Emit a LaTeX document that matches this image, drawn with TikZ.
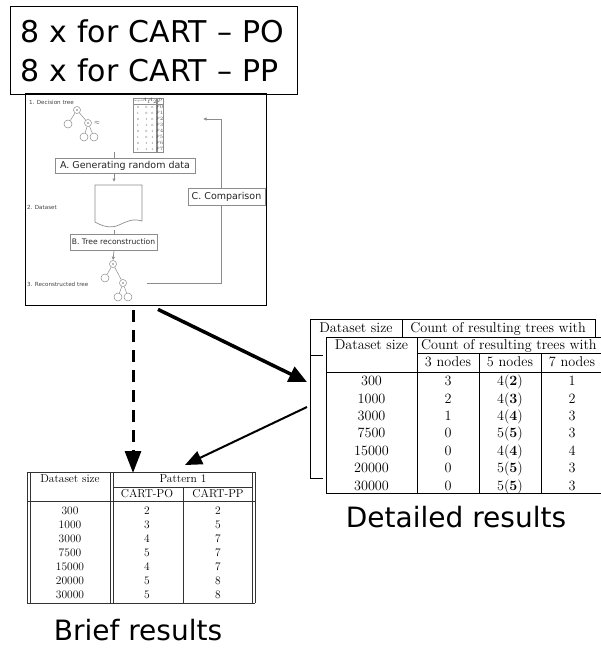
\documentclass[tikz,border=0pt]{standalone}
\usepackage{fontspec}
\newfontfamily\dv{DejaVu Sans}
\usetikzlibrary{arrows.meta,calc}
\begin{document}
\begin{tikzpicture}[x=1pt,y=-1pt,
  lbl/.style={font=\dv\fontsize{28}{30}\selectfont, inner sep=0},
  fl/.style={draw=black!45, line width=0.7pt},
  fla/.style={fl, -{Latex[length=3.5pt,width=3.5pt]}},
  fbox/.style={draw=black!45, line width=0.7pt, fill=white, inner sep=0, font=\dv\fontsize{9.5}{11}\selectfont, text=black!85},
  ftxt/.style={font=\dv\fontsize{5.6}{6}\selectfont, text=black!75, inner sep=0, anchor=west},
  tc/.style={circle, draw=black!45, line width=0.5pt, minimum size=8pt, inner sep=0},
  tiny/.style={font=\fontsize{3.2}{3.5}\selectfont, text=black!70, inner sep=0},
  tinyh/.style={font=\fontsize{2.4}{2.6}\selectfont, text=black!70, inner sep=0},
  tl/.style={draw=black, line width=0.6pt},
  bl/.style={draw=black!80, line width=0.6pt},
  dt/.style={font=\fontsize{14.2}{16}\selectfont, inner sep=0, text height=9.5pt, text depth=0pt},
  bt/.style={font=\fontsize{11.5}{13}\selectfont, inner sep=0, text height=7.8pt, text depth=0pt},
  frame/.style={inner sep=0, anchor=north west}
]
\useasboundingbox (0,0) rectangle (601,650);
\clip (0,0) rectangle (601,650);

% ---------- top box ----------
\node[frame, draw, line width=1pt, minimum width=287pt, minimum height=88pt,
      text width=267pt, align=left, font=\dv\fontsize{30}{39}\selectfont, yshift=-2pt]
  (topbox) at (10,4) {8 x for CART – PO\\8 x for CART – PP};

% ---------- flowchart ----------
\node[frame, draw, line width=1.4pt, minimum width=241pt, minimum height=212pt] (flow) at (25,93) {};

\node[ftxt] (t1) at (29,102) {1. Decision tree};
\node[ftxt] (t2) at (27,207) {2. Dataset};
\node[ftxt] (t3) at (27,284) {3. Reconstructed tree};

% decision tree
\node[tc, minimum size=7pt] (r1) at (77,110) {};
\node[tc] (a1) at (68,124) {};
\node[tc, minimum size=7pt] (b1) at (88,123) {};
\node[tc] (c1) at (84,137) {};
\node[tc] (d1) at (94,137) {};
\fill[black!55] (r1) circle (0.8pt) (b1) circle (0.8pt);
\draw[fl, line width=0.5pt] (r1) -- (a1) (r1) -- (b1) (b1) -- (c1) (b1) -- (d1);
\node[font=\fontsize{6}{6}\selectfont, text=black!70, inner sep=0] (approx) at (97,123) {$\approx$};

% small data table
\node[frame, minimum width=30pt, minimum height=54pt] (tab) at (133,98) {};
\draw[fl, line width=0.4pt] (133,98) rectangle (163,152);
\draw[fl, line width=0.4pt] (133,104) -- (163,104);
\draw[fl, line width=0.4pt] (156,98) -- (156,152) (157,98) -- (157,152);
\node[tinyh] at (138,101) {target};
\node[tinyh] at (146.5,101) {$A_1$};
\node[tinyh] at (152.5,101) {$A_2$};
\node[tinyh] at (160,101) {$P$};
\foreach \t/\a/\b/\p [count=\i] in {0/0/0/0,1/0/0/1,0/1/0/2,1/1/0/3,0/0/1/4,1/0/1/5,0/1/1/6,1/1/1/7}{
  \node[tiny] at (138,{101+6*\i}) {\t};
  \node[tiny] at (146.5,{101+6*\i}) {\a};
  \node[tiny] at (152.5,{101+6*\i}) {\b};
  \node[tiny] at (160,{101+6*\i}) {$p_{\p}$};
}

\coordinate (ax) at (114,0);
\node[fbox, minimum width=140pt, minimum height=15pt] (boxA) at (125,165.5) {A. Generating random data};
\draw[fl] (tab.south -| ax) -- (boxA.north -| ax);
\draw[fla] (boxA.south -| ax) -- (114,182) coordinate (docTop);

% document shape
\draw[fl, fill=white] (95,185) -- (142,185) -- (142,221)
  .. controls (132,218) and (126,222) .. (119,225)
  .. controls (110,229) and (102,226) .. (95,222) -- cycle;
\coordinate (docBot) at (114,230);

\node[fbox, font=\dv\fontsize{7.6}{9}\selectfont, minimum width=87pt, minimum height=16pt] (boxB) at (113.5,242) {B. Tree reconstruction};
\draw[fl] (docBot) -- (boxB.north -| ax);

% reconstructed tree
\node[tc, minimum size=7pt] (r2) at (113,264) {};
\node[tc] (a2) at (105,278) {};
\node[tc, minimum size=7pt] (b2) at (123,283) {};
\node[tc] (c2) at (118,297) {};
\node[tc] (d2) at (128,297) {};
\fill[black!55] (r2) circle (0.8pt) (b2) circle (0.8pt);
\draw[fl, line width=0.5pt] (r2) -- (a2) (r2) -- (b2) (b2) -- (c2) (b2) -- (d2);
\draw[fla] (boxB.south -| ax) -- (r2.north);

% comparison loop
\node[fbox, minimum width=77pt, minimum height=17pt] (boxC) at (226.5,196.5) {C. Comparison};
\coordinate (cx) at (221,0);
\coordinate (loopStart) at (147,283);
\coordinate (loopEnd) at (203,119);
\draw[fl] (loopStart) -- (loopStart -| cx) -- (boxC.south -| cx);
\draw[fla] (boxC.north -| cx) |- (loopEnd);

% ---------- detailed table ----------
\node[frame, minimum width=291pt, minimum height=174pt] (det) at (310,319) {};
\draw[tl] (310,478) -- (310,319) -- (595,319) -- (595,337);
\draw[tl] (402,319) -- (402,337);
\draw[tl] (310,355) -- (323,355);
\draw[tl] (310,478) -- (323,478);
\node[dt] at (356,328) {Dataset size};
\node[dt] at (498,328) {Count of resulting trees with};
\fill[white] (326,337) rectangle (610,493);
\draw[tl] (610,337) -- (326,337) -- (326,493) -- (610,493);
\draw[tl] (417,337) -- (417,493);
\draw[tl] (417,353) -- (610,353);
\draw[tl] (479,353) -- (479,493) (541,353) -- (541,493);
\draw[tl] (326,372) -- (610,372);
\node[dt] at (371.5,345) {Dataset size};
\node[dt, anchor=west] at (421,345) {Count of resulting trees with};
\node[dt] at (448,362) {3 nodes};
\node[dt] at (510,362) {5 nodes};
\node[dt] at (572,362) {7 nodes};
\foreach \s/\a/\b/\bb/\c [count=\i] in {300/3/4/2/1,1000/2/4/3/2,3000/1/4/4/3,7500/0/5/5/3,15000/0/4/4/4,20000/0/5/5/3,30000/0/5/5/3}{
  \pgfmathsetmacro{\yy}{381+17.4*(\i-1)}
  \node[dt] at (371.5,\yy) {\s};
  \node[dt] at (448,\yy) {\a};
  \node[dt] at (510,\yy) {\b(\textbf{\bb})};
  \node[dt] at (572,\yy) {\c};
}
\node[lbl, anchor=base] (detlbl) at (456,527) {Detailed results};

% ---------- brief table ----------
\node[frame, minimum width=228pt, minimum height=131pt] (brief) at (27,472) {};
\draw[bl] (27,472) -- (255,472);
\draw[bl] (27,603) -- (255,603);
\draw[bl] (27,472) -- (27,603) (30,472) -- (30,603);
\draw[bl] (110,472) -- (110,603) (113,472) -- (113,603);
\draw[bl] (252,472) -- (252,603) (255,472) -- (255,603);
\draw[bl] (113,487) -- (252,487);
\draw[bl] (183,487) -- (183,603);
\draw[bl] (27,501) -- (255,501);
\node[bt] at (70,479) {Dataset size};
\node[bt] at (183,479) {Pattern 1};
\node[bt] at (147,494) {CART-PO};
\node[bt] at (218,494) {CART-PP};
\foreach \s/\a/\b [count=\i] in {300/2/2,1000/3/5,3000/4/7,7500/5/7,15000/4/7,20000/5/8,30000/5/8}{
  \pgfmathsetmacro{\yy}{511+14*(\i-1)}
  \node[bt] at (70,\yy) {\s};
  \node[bt] at (147,\yy) {\a};
  \node[bt] at (218,\yy) {\b};
}
\node[lbl, anchor=base] (brieflbl) at (138,640) {Brief results};

% ---------- connectors ----------
\draw[line width=3pt, dash pattern=on 12pt off 8pt, -{Triangle[length=22pt,width=16pt]}]
  ($(flow.south west)+(108,4)$) -- ($(brief.north west)+(106,1)$);
\draw[line width=3.5pt, -{Triangle[length=18pt,width=16pt]}]
  ($(flow.south west)+(133,3)$) -- ($(det.north west)+(-3,63)$);
\draw[line width=2pt, -{Triangle[length=17pt,width=14pt]}]
  ($(det.north west)+(-3,88)$) -- ($(brief.north west)+(158,-7)$);
\end{tikzpicture}
\end{document}
